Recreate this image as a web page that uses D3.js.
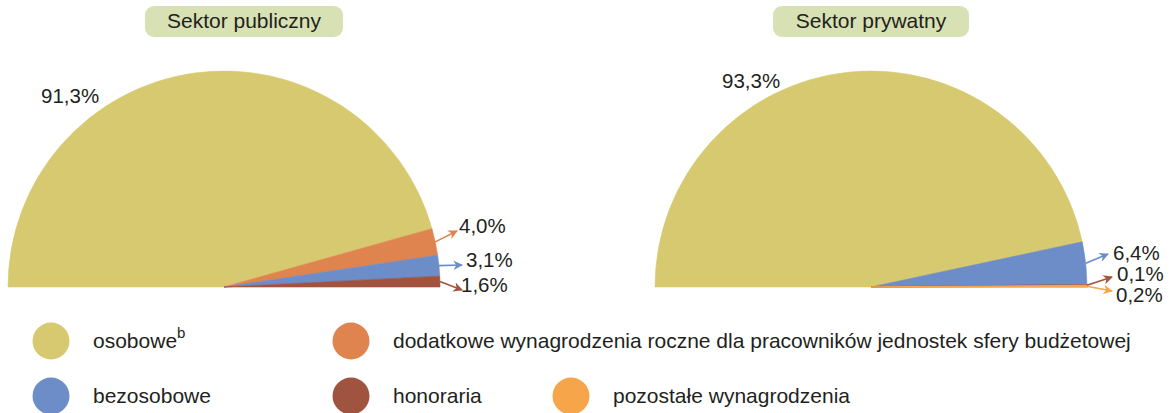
<!DOCTYPE html>
<html>
<head>
<meta charset="utf-8">
<script src="https://cdn.jsdelivr.net/npm/d3@7"></script>
<style>
  html, body { margin: 0; padding: 0; background: #fff; }
  svg { display: block; font-family: "Liberation Sans", Arial, sans-serif; }
</style>
</head>
<body>
<svg id="chart" width="1171" height="413"></svg>
<script>
// Categories of pay components (order of slices, clockwise from the left)
const categories = [
  "osobowe",
  "dodatkowe wynagrodzenia roczne dla pracowników jednostek sfery budżetowej",
  "bezosobowe",
  "honoraria",
  "pozostałe wynagrodzenia"
];
const sectorTitles = ["Sektor publiczny", "Sektor prywatny"];
// Shares in percent
const publicValues  = [91.3, 4.0, 3.1, 1.6, 0];
const privateValues = [93.3, 0, 6.4, 0.1, 0.2];
const colors = ["#d6c96f", "#e0844f", "#6c8dc8", "#a0533f", "#f6a54a"];

const svg = d3.select("#chart");
const textColor = "#231f20";
const fmt = v => d3.format(".1f")(v).replace(".", ",") + "%";

const radius = 216;
const pie = d3.pie().sort(null).value(d => d.value)
  .startAngle(-Math.PI / 2).endAngle(Math.PI / 2);
const arc = d3.arc().innerRadius(0).outerRadius(radius);

// arrowhead markers, one per colour
const defs = svg.append("defs");
colors.forEach((c, i) => {
  defs.append("marker")
    .attr("id", "arrow" + i)
    .attr("viewBox", "0 0 10 10")
    .attr("refX", 9).attr("refY", 5)
    .attr("markerWidth", 6).attr("markerHeight", 6)
    .attr("orient", "auto")
    .attr("markerUnits", "strokeWidth")
    .append("path")
    .attr("d", "M0,0 L10,5 L0,10 L3,5 Z")
    .attr("fill", c);
});

// layout of each half-pie: centre, title box and label placement
const panels = [
  {
    values: publicValues, cx: 224, cy: 287,
    title: { x: 145, w: 198 },
    main: { dx: -183, dy: -184 },
    // arrow end offset and text anchor for the small slices (keyed by category index)
    small: {
      1: { end: [233, -56], text: [235, -54] },
      2: { end: [238, -22], text: [242, -20] },
      3: { end: [238, 3],   text: [237, 5] }
    }
  },
  {
    values: privateValues, cx: 871, cy: 287,
    title: { x: 773, w: 196 },
    main: { dx: -149, dy: -199 },
    small: {
      2: { end: [237, -33], text: [242, -27] },
      3: { end: [241, -10], text: [246, -6] },
      4: { end: [241, 4],   text: [245, 15] }
    }
  }
];

panels.forEach((p, pi) => {
  // title box
  const tg = svg.append("g");
  tg.append("rect")
    .attr("x", p.title.x).attr("y", 6)
    .attr("width", p.title.w).attr("height", 31)
    .attr("rx", 9).attr("ry", 9)
    .attr("fill", "#d7e1b3");
  tg.append("text")
    .attr("x", p.title.x + p.title.w / 2).attr("y", 28)
    .attr("text-anchor", "middle")
    .attr("font-size", 21).attr("fill", textColor)
    .text(sectorTitles[pi]);

  const data = p.values.map((v, i) => ({ value: v, index: i }));
  const arcs = pie(data);
  const g = svg.append("g").attr("transform", `translate(${p.cx},${p.cy})`);

  g.selectAll("path.slice")
    .data(arcs.filter(a => a.data.value > 0))
    .join("path")
    .attr("class", "slice")
    .attr("d", arc)
    .attr("fill", d => colors[d.data.index])
    .attr("stroke", d => colors[d.data.index])
    .attr("stroke-width", d => d.data.value < 1 ? 1.6 : 0.6);

  // main slice label
  const mainArc = arcs[0];
  g.append("text")
    .attr("x", p.main.dx).attr("y", p.main.dy)
    .attr("font-size", 20.5).attr("fill", textColor)
    .text(fmt(mainArc.data.value));

  // small slices: arrow from the rim to the label
  arcs.forEach(a => {
    const lay = p.small[a.data.index];
    if (!lay || a.data.value <= 0) return;
    const mid = (a.startAngle + a.endAngle) / 2;
    const sx = Math.sin(mid) * radius;
    const sy = -Math.cos(mid) * radius;
    g.append("line")
      .attr("x1", sx).attr("y1", sy)
      .attr("x2", lay.end[0]).attr("y2", lay.end[1])
      .attr("stroke", colors[a.data.index])
      .attr("stroke-width", 1.6)
      .attr("marker-end", `url(#arrow${a.data.index})`);
    g.append("text")
      .attr("x", lay.text[0]).attr("y", lay.text[1])
      .attr("font-size", 20.5).attr("fill", textColor)
      .text(fmt(a.data.value));
  });
});

// legend
const legendPos = [
  { cx: 51,  cy: 341 },
  { cx: 351, cy: 341 },
  { cx: 51,  cy: 396 },
  { cx: 351, cy: 396 },
  { cx: 571, cy: 396 }
];
const lg = svg.append("g");
categories.forEach((c, i) => {
  const pos = legendPos[i];
  lg.append("circle")
    .attr("cx", pos.cx).attr("cy", pos.cy).attr("r", 18.5)
    .attr("fill", colors[i]);
  const t = lg.append("text")
    .attr("x", pos.cx + 42).attr("y", pos.cy + 7)
    .attr("font-size", 21).attr("fill", textColor)
    .text(c);
  if (i === 0) {
    t.append("tspan").attr("dy", -10).attr("font-size", 15).text("b");
  }
});
</script>
</body>
</html>
